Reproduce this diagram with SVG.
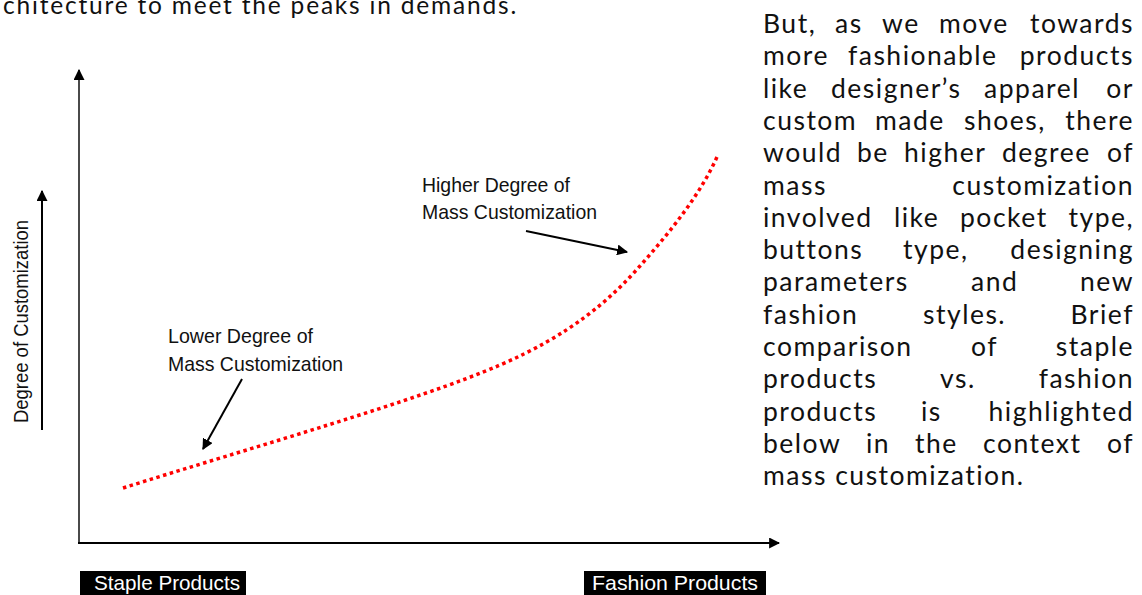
<svg xmlns="http://www.w3.org/2000/svg" width="1142" height="595" viewBox="0 0 1142 595">
  <style>
    .body { font-family: Lato, "Open Sans", sans-serif; font-size: 26.5px; letter-spacing: 1.5px; fill: #111; }
    .head { font-size: 24.5px; letter-spacing: 1.8px; }
    .end { text-anchor: end; }
    .lbl { font-family: "Liberation Sans", Arial, sans-serif; font-size: 21px; fill: #111; }
    .tag { font-family: "Liberation Sans", Arial, sans-serif; font-size: 21px; fill: #fff; }
    .axis { stroke: #000; stroke-width: 2; fill: none; }
    .axis-v { stroke: #4a4a4a; stroke-width: 2; fill: none; }
    .pointer { stroke: #000; stroke-width: 2; fill: none; }
    .curve { stroke: #ff0000; stroke-width: 3.5; fill: none; stroke-dasharray: 3.5 3.5; }
  </style>
  <defs>
    <marker id="tip" viewBox="0 0 10 10" refX="9" refY="5" markerWidth="5.5" markerHeight="5.5" orient="auto" markerUnits="strokeWidth">
      <path d="M0,0 L10,5 L0,10 z" fill="#000"/>
    </marker>
  </defs>

  <rect width="1142" height="595" fill="#fff"/>

  <!-- running text above the chart -->
  <text class="body head" x="3" y="14">chitecture to meet the peaks in demands.</text>

  <!-- axes -->
  <g id="axes">
    <line class="axis-v" x1="79" y1="543" x2="79" y2="70" marker-end="url(#tip)"/>
    <line class="axis" x1="78" y1="543" x2="779" y2="543" marker-end="url(#tip)"/>
    <line class="axis" x1="42" y1="430" x2="42" y2="191" marker-end="url(#tip)"/>
    <text class="lbl" transform="translate(28,423) rotate(-90)" textLength="203" lengthAdjust="spacingAndGlyphs">Degree of Customization</text>
  </g>

  <!-- customization curve -->
  <path class="curve" d="M123,488 C250,448 420,400 500,365 C570,335 610,300 640,266 C670,232 700,195 717,157"/>

  <!-- pointers from the labels to the curve -->
  <g id="connectors">
    <line class="pointer" x1="242" y1="379" x2="203" y2="449" marker-end="url(#tip)"/>
    <line class="pointer" x1="526" y1="231" x2="627" y2="252" marker-end="url(#tip)"/>
  </g>

  <g id="label-lower">
    <text class="lbl" x="168" y="343" textLength="145" lengthAdjust="spacingAndGlyphs">Lower Degree of</text>
    <text class="lbl" x="168" y="371" textLength="175" lengthAdjust="spacingAndGlyphs">Mass Customization</text>
  </g>
  <g id="label-higher">
    <text class="lbl" x="422" y="192" textLength="148" lengthAdjust="spacingAndGlyphs">Higher Degree of</text>
    <text class="lbl" x="422" y="219" textLength="175" lengthAdjust="spacingAndGlyphs">Mass Customization</text>
  </g>

  <!-- axis end tags -->
  <g id="tag-staple">
    <rect x="80" y="571" width="166" height="24" fill="#000"/>
    <text class="tag" x="94" y="590" textLength="146" lengthAdjust="spacingAndGlyphs">Staple Products</text>
  </g>
  <g id="tag-fashion">
    <rect x="584" y="571" width="182" height="24" fill="#000"/>
    <text class="tag" x="592" y="590" textLength="166" lengthAdjust="spacingAndGlyphs">Fashion Products</text>
  </g>

  <!-- justified paragraph: first word flush left, last word flush right -->
  <g id="paragraph" class="body">
    <text y="33"><tspan x="763">But,</tspan><tspan x="835">as</tspan><tspan x="882">we</tspan><tspan x="939">move</tspan><tspan class="end" x="1134">towards</tspan></text>
    <text y="65.3"><tspan x="763">more</tspan><tspan x="848">fashionable</tspan><tspan class="end" x="1134">products</tspan></text>
    <text y="97.6"><tspan x="763">like</tspan><tspan x="831">designer’s</tspan><tspan x="984">apparel</tspan><tspan class="end" x="1134">or</tspan></text>
    <text y="129.9"><tspan x="763">custom</tspan><tspan x="875">made</tspan><tspan x="964">shoes,</tspan><tspan class="end" x="1134">there</tspan></text>
    <text y="162.2"><tspan x="763">would</tspan><tspan x="857">be</tspan><tspan x="904">higher</tspan><tspan x="1002">degree</tspan><tspan class="end" x="1134">of</tspan></text>
    <text y="194.5"><tspan x="763">mass</tspan><tspan class="end" x="1134">customization</tspan></text>
    <text y="226.8"><tspan x="763">involved</tspan><tspan x="894">like</tspan><tspan x="960">pocket</tspan><tspan class="end" x="1134">type,</tspan></text>
    <text y="259.1"><tspan x="763">buttons</tspan><tspan x="903">type,</tspan><tspan class="end" x="1134">designing</tspan></text>
    <text y="291.4"><tspan x="763">parameters</tspan><tspan x="971">and</tspan><tspan class="end" x="1134">new</tspan></text>
    <text y="323.7"><tspan x="763">fashion</tspan><tspan x="923">styles.</tspan><tspan class="end" x="1134">Brief</tspan></text>
    <text y="356"><tspan x="763">comparison</tspan><tspan x="971">of</tspan><tspan class="end" x="1134">staple</tspan></text>
    <text y="388.3"><tspan x="763">products</tspan><tspan x="940">vs.</tspan><tspan class="end" x="1134">fashion</tspan></text>
    <text y="420.6"><tspan x="763">products</tspan><tspan x="921">is</tspan><tspan class="end" x="1134">highlighted</tspan></text>
    <text y="452.9"><tspan x="763">below</tspan><tspan x="866">in</tspan><tspan x="915">the</tspan><tspan x="983">context</tspan><tspan class="end" x="1134">of</tspan></text>
    <text y="485.2" x="763">mass customization.</text>
  </g>
</svg>
